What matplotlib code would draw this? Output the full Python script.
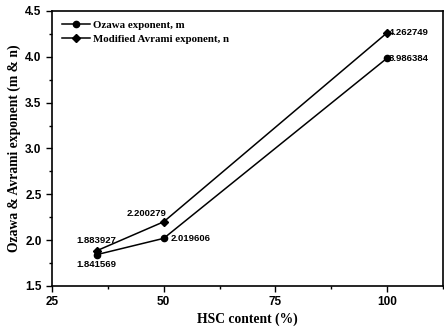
import matplotlib.pyplot as plt
from matplotlib.ticker import MultipleLocator

hsc = [35, 50, 100]
ozawa_m = [1.841569, 2.019606, 3.986384]
avrami_n = [1.883927, 2.200279, 4.262749]

serif = 'Liberation Serif'
sans = 'Liberation Sans'

fig = plt.figure(figsize=(4.44, 3.31), dpi=100)
ax = fig.add_axes([0.117, 0.136, 0.881, 0.831])

ax.plot(hsc, ozawa_m, color='black', marker='o', markersize=4.5, linewidth=1.1,
        label='Ozawa exponent, m')
ax.plot(hsc, avrami_n, color='black', marker='D', markersize=4.5, linewidth=1.1,
        label='Modified Avrami exponent, n')

# value labels
tk = dict(fontsize=6.8, fontweight='bold', family=sans)
ax.annotate(f'{avrami_n[2]:.6f}', (hsc[2], avrami_n[2]), xytext=(1, 0), textcoords='offset points', va='center', **tk)
ax.annotate(f'{ozawa_m[2]:.6f}', (hsc[2], ozawa_m[2]), xytext=(1, 0), textcoords='offset points', va='center', **tk)
ax.annotate(f'{avrami_n[1]:.6f}', (hsc[1], avrami_n[1]), xytext=(2, 3), textcoords='offset points', ha='right', va='bottom', **tk)
ax.annotate(f'{ozawa_m[1]:.6f}', (hsc[1], ozawa_m[1]), xytext=(5, 0), textcoords='offset points', va='center', **tk)
ax.annotate(f'{avrami_n[0]:.6f}', (hsc[0], avrami_n[0]), xytext=(0, 4), textcoords='offset points', ha='center', va='bottom', **tk)
ax.annotate(f'{ozawa_m[0]:.6f}', (hsc[0], ozawa_m[0]), xytext=(0, -4), textcoords='offset points', ha='center', va='top', **tk)

ax.set_xlim(25, 112.5)
ax.set_ylim(1.5, 4.5)
ax.xaxis.set_major_locator(MultipleLocator(25))
ax.xaxis.set_minor_locator(MultipleLocator(12.5))
ax.yaxis.set_major_locator(MultipleLocator(0.5))
ax.yaxis.set_minor_locator(MultipleLocator(0.25))
ax.tick_params(which='major', length=4, width=1, labelsize=8.5)
ax.tick_params(which='minor', length=2, width=1)
for lab in ax.get_xticklabels() + ax.get_yticklabels():
    lab.set_family(sans)
    lab.set_fontweight('bold')
for sp in ax.spines.values():
    sp.set_linewidth(1.2)

ax.set_xlabel('HSC content (%)', family=serif, fontweight='bold', fontsize=9.8, labelpad=3)
ax.set_ylabel('Ozawa & Avrami exponent (m & n)', family=serif, fontweight='bold', fontsize=9.8, labelpad=3)

ax.legend(loc='upper left', frameon=False, prop=dict(family=serif, weight='bold', size=7.8),
          handlelength=2.6, handletextpad=0.3, borderaxespad=0.5, labelspacing=0.35)

fig.savefig('out.png', dpi=100)
